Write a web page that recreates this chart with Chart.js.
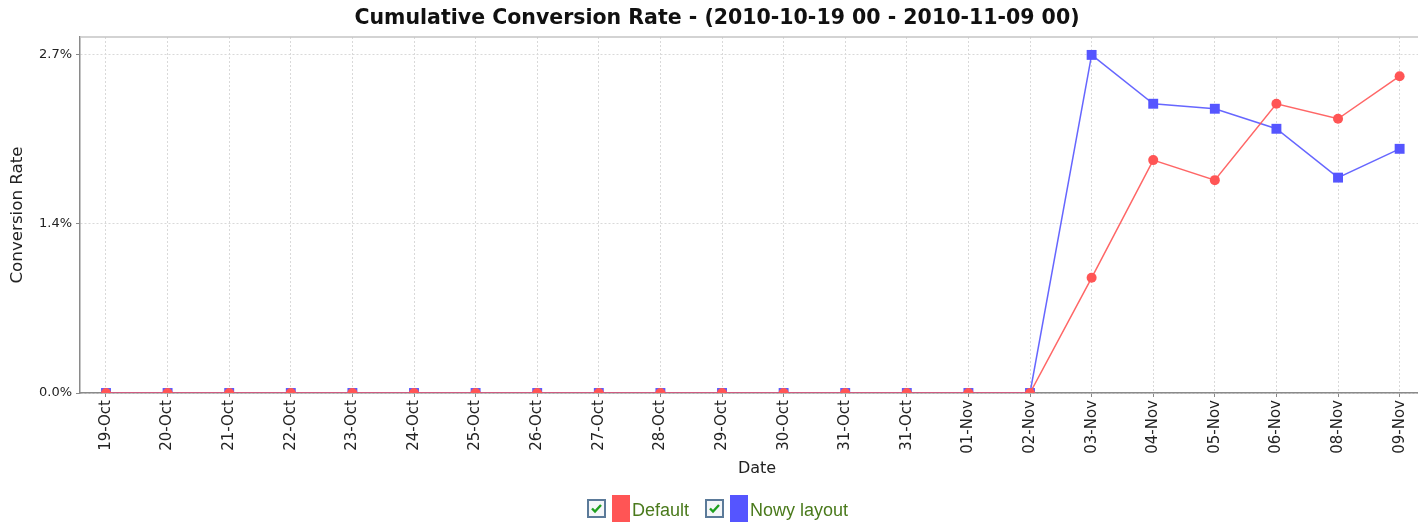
<!DOCTYPE html>
<html>
<head>
<meta charset="utf-8">
<script src="https://cdn.jsdelivr.net/npm/chart.js@4"></script>
<style>
  html, body { margin: 0; padding: 0; background: #fff; overflow: hidden; }
  #wrap { position: relative; width: 1418px; height: 522px; overflow: hidden; }
  #chart { position: absolute; left: 0; top: 0; }
  #legend {
    position: absolute; left: 587px; top: 495px;
    display: flex; align-items: flex-start;
    font-family: "Liberation Sans", Arial, sans-serif; font-size: 18px; color: #4a7a1c;
  }
  .item { display: flex; align-items: flex-start; margin-right: 16px; }
  .box {
    width: 15px; height: 15px; margin-top: 4px; border: 2px solid #5b7a99;
    background: #f4f6f8; position: relative;
  }
  .box svg { position: absolute; left: 1px; top: 1px; }
  .swatch { width: 18px; height: 30px; margin-left: 6px; }
  .txt { margin-left: 2px; margin-top: 5px; line-height: 20px; }
</style>
</head>
<body>
<div id="wrap">
  <!-- canvas is a little wider than the window so the plot runs off the right edge -->
  <canvas id="chart" width="1434" height="522"></canvas>
  <div id="legend"></div>
</div>
<script>
// chart values
const dateLabels = ['19-Oct', '20-Oct', '21-Oct', '22-Oct', '23-Oct', '24-Oct', '25-Oct', '26-Oct',
  '27-Oct', '28-Oct', '29-Oct', '30-Oct', '31-Oct', '31-Oct', '01-Nov', '02-Nov',
  '03-Nov', '04-Nov', '05-Nov', '06-Nov', '08-Nov', '09-Nov'];
const defaultRate = [0, 0, 0, 0, 0, 0, 0, 0, 0, 0, 0, 0, 0, 0, 0, 0,
  0.92, 1.86, 1.70, 2.31, 2.19, 2.53];
const nowyRate = [0, 0, 0, 0, 0, 0, 0, 0, 0, 0, 0, 0, 0, 0, 0, 0,
  2.70, 2.31, 2.27, 2.11, 1.72, 1.95];
const yTickValues = [0, 1.35, 2.7];
const yTickLabels = ['0.0%', '1.4%', '2.7%'];

const seriesNames = ['Default', 'Nowy layout'];
const seriesColors = ['#ff5555', '#5555ff'];

const toPoints = arr => arr.map((v, i) => ({ x: i, y: v }));

// thin grey line along the top of the plot
const topBorder = {
  id: 'topBorder',
  afterDraw(chart) {
    const { ctx, chartArea } = chart;
    ctx.save();
    ctx.strokeStyle = '#c4c4c4';
    ctx.lineWidth = 1.5;
    ctx.beginPath();
    ctx.moveTo(chartArea.left, chartArea.top);
    ctx.lineTo(chartArea.right, chartArea.top);
    ctx.stroke();
    ctx.restore();
  }
};

const gridOpts = {
  color: '#d9d9d9',
  tickColor: '#888',
  tickLength: 4,
  tickBorderDash: [],
  tickWidth: 1
};
const borderOpts = { color: '#8a8a8a', width: 1.5, dash: [2, 2] };

const ctx = document.getElementById('chart').getContext('2d');
const chart = new Chart(ctx, {
  type: 'line',
  data: {
    datasets: [{
      label: seriesNames[0],
      data: toPoints(defaultRate),
      borderColor: 'rgba(255,85,85,0.9)',
      backgroundColor: seriesColors[0],
      borderWidth: 1.5,
      pointStyle: 'circle',
      pointRadius: 5,
      pointBorderWidth: 0,
      pointHoverRadius: 5,
      tension: 0,
      clip: 0
    }, {
      label: seriesNames[1],
      data: toPoints(nowyRate),
      borderColor: 'rgba(85,85,255,0.9)',
      backgroundColor: seriesColors[1],
      borderWidth: 1.5,
      pointStyle: 'rect',
      pointRadius: 7,
      pointBorderWidth: 0,
      pointHoverRadius: 7,
      tension: 0,
      clip: 0
    }]
  },
  options: {
    responsive: false,
    animation: false,
    layout: { padding: 0, autoPadding: false },
    plugins: {
      legend: { display: false },
      tooltip: { enabled: false },
      title: {
        display: true,
        text: 'Cumulative Conversion Rate - (2010-10-19 00 - 2010-11-09 00)',
        color: '#111',
        font: { family: 'DejaVu Sans', size: 20.5, weight: 'bold', lineHeight: 1.2 },
        padding: { top: 6, bottom: 6.4 }
      }
    },
    scales: {
      x: {
        type: 'linear',
        min: -0.422,
        max: 21.558,
        afterBuildTicks: scale => {
          scale.ticks = dateLabels.map((l, i) => ({ value: i }));
        },
        afterFit: scale => {
          scale.height = 129;
          scale.paddingLeft = 0;
          scale.paddingRight = 0;
        },
        ticks: {
          autoSkip: false,
          minRotation: 90,
          maxRotation: 90,
          padding: 3,
          color: '#222',
          font: { family: 'DejaVu Sans', size: 15 },
          callback: v => dateLabels[v]
        },
        grid: gridOpts,
        border: borderOpts,
        title: {
          display: true,
          text: 'Date',
          color: '#222',
          font: { family: 'DejaVu Sans', size: 16, lineHeight: 1.2 },
          padding: { top: 0, bottom: 44 }
        }
      },
      y: {
        min: 0,
        max: 2.843,
        afterBuildTicks: scale => {
          scale.ticks = yTickValues.map(v => ({ value: v }));
        },
        afterFit: scale => {
          scale.width = 80;
          scale.paddingTop = 0;
          scale.paddingBottom = 0;
        },
        ticks: {
          padding: 4,
          color: '#222',
          font: { family: 'DejaVu Sans', size: 13 },
          callback: (v, i) => yTickLabels[i]
        },
        grid: gridOpts,
        border: borderOpts,
        title: {
          display: true,
          text: 'Conversion Rate',
          color: '#222',
          font: { family: 'DejaVu Sans', size: 16.7, lineHeight: 1.2 },
          padding: { top: 8, bottom: 0 }
        }
      }
    }
  },
  plugins: [topBorder]
});

// legend with check boxes, like the original
const legendEl = document.getElementById('legend');
seriesNames.forEach((name, i) => {
  const item = document.createElement('div');
  item.className = 'item';
  item.innerHTML =
    '<span class="box"><svg width="13" height="13" viewBox="0 0 13 13">' +
    '<path d="M2 6.5 L5 9.5 L11 3" stroke="#1fa01f" stroke-width="2.4" fill="none"/></svg></span>' +
    '<span class="swatch" style="background:' + seriesColors[i] + '"></span>' +
    '<span class="txt">' + name + '</span>';
  legendEl.appendChild(item);
});
</script>
</body>
</html>
